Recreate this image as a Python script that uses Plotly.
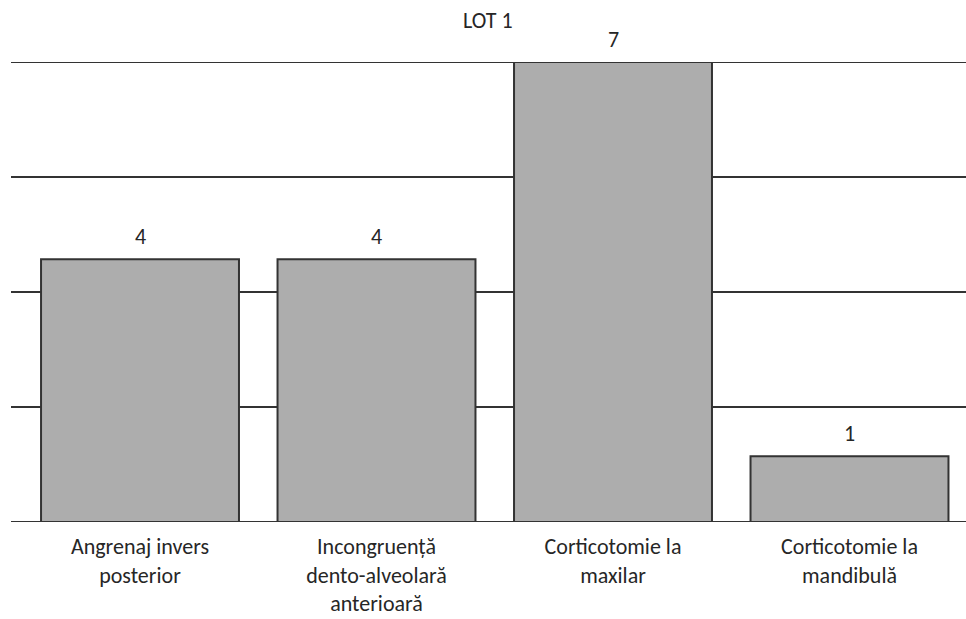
import plotly.graph_objects as go

categories = ["Angrenaj invers<br>posterior",
              "Incongruență<br>dento-alveolară<br>anterioară",
              "Corticotomie la<br>maxilar",
              "Corticotomie la<br>mandibulă"]
values = [4, 4, 7, 1]
title_text = "LOT 1"
grid_vals = [0, 1.75, 3.5, 5.25, 7]

FONT = "Carlito, Calibri, Lato, sans-serif"
TXT = "#262626"

xs = list(range(len(categories)))

fig = go.Figure()
fig.add_trace(go.Bar(
    x=xs, y=values, width=0.837,
    marker=dict(color="#ADADAD", line=dict(color="#333333", width=2)),
    hoverinfo="skip",
))

for g in grid_vals:
    fig.add_shape(type="line", xref="paper", yref="y", x0=0, x1=1, y0=g, y1=g,
                  line=dict(color="#333333", width=2), layer="below")

for x, v in zip(xs, values):
    fig.add_annotation(x=x, y=v, text=str(v), showarrow=False,
                       yanchor="bottom", yshift=7,
                       font=dict(family=FONT, size=22, color=TXT))

fig.update_layout(
    width=966, height=619,
    margin=dict(l=11, r=0, t=62, b=97),
    paper_bgcolor="white", plot_bgcolor="white",
    showlegend=False,
    title=dict(text=title_text, x=0.505, xanchor="center", y=1 - 20 / 619, yanchor="middle",
               font=dict(family=FONT, size=22, color=TXT)),
    xaxis=dict(range=[-0.5455, 3.4926], tickvals=xs, ticktext=categories,
               showgrid=False, zeroline=False, showline=False, ticks="",
               ticklabelstandoff=9,
               tickfont=dict(family=FONT, size=22, color=TXT)),
    yaxis=dict(range=[0, 7], showticklabels=False,
               showgrid=False, zeroline=False, showline=False, ticks=""),
)

fig.write_html("out.html", config={"displayModeBar": False},
               post_script="document.body.style.margin='0';")
